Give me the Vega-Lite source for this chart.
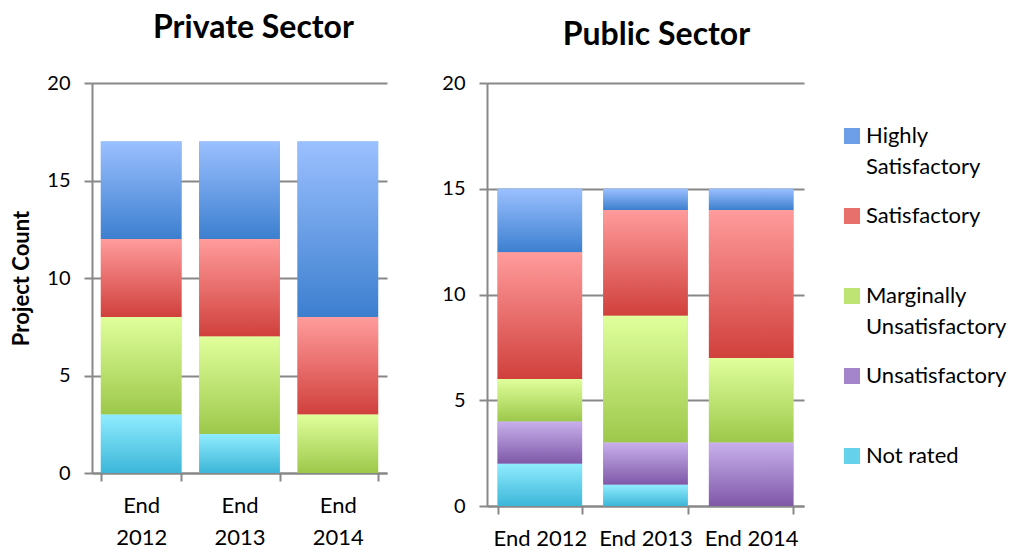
{
  "$schema": "https://vega.github.io/schema/vega-lite/v6.json",
  "background": "white",
  "padding": {"left": 10, "top": 12, "right": 5, "bottom": 5},
  "bounds": "flush",
  "spacing": 100,
  "config": {
    "font": "Lato",
    "view": {"stroke": null},
    "style": {"guide-label": {"lineHeight": 31}},
    "axis": {
      "labelFont": "Lato",
      "labelFontSize": 20,
      "labelColor": "#000",
      "domainColor": "#888",
      "domainWidth": 2,
      "tickColor": "#888",
      "tickWidth": 2,
      "tickSize": 8,
      "gridColor": "#888",
      "gridWidth": 2
    },
    "legend": {
      "labelFont": "Lato",
      "labelFontSize": 22,
      "labelColor": "#000"
    }
  },
  "datasets": {
    "private": [
      {"period": "End 2012", "rating": "Not rated", "rank": 1, "count": 3},
      {"period": "End 2012", "rating": "Marginally Unsatisfactory", "rank": 3, "count": 5},
      {"period": "End 2012", "rating": "Satisfactory", "rank": 4, "count": 4},
      {"period": "End 2012", "rating": "Highly Satisfactory", "rank": 5, "count": 5},
      {"period": "End 2013", "rating": "Not rated", "rank": 1, "count": 2},
      {"period": "End 2013", "rating": "Marginally Unsatisfactory", "rank": 3, "count": 5},
      {"period": "End 2013", "rating": "Satisfactory", "rank": 4, "count": 5},
      {"period": "End 2013", "rating": "Highly Satisfactory", "rank": 5, "count": 5},
      {"period": "End 2014", "rating": "Marginally Unsatisfactory", "rank": 3, "count": 3},
      {"period": "End 2014", "rating": "Satisfactory", "rank": 4, "count": 5},
      {"period": "End 2014", "rating": "Highly Satisfactory", "rank": 5, "count": 9}
    ],
    "public": [
      {"period": "End 2012", "rating": "Not rated", "rank": 1, "count": 2},
      {"period": "End 2012", "rating": "Unsatisfactory", "rank": 2, "count": 2},
      {"period": "End 2012", "rating": "Marginally Unsatisfactory", "rank": 3, "count": 2},
      {"period": "End 2012", "rating": "Satisfactory", "rank": 4, "count": 6},
      {"period": "End 2012", "rating": "Highly Satisfactory", "rank": 5, "count": 3},
      {"period": "End 2013", "rating": "Not rated", "rank": 1, "count": 1},
      {"period": "End 2013", "rating": "Unsatisfactory", "rank": 2, "count": 2},
      {"period": "End 2013", "rating": "Marginally Unsatisfactory", "rank": 3, "count": 6},
      {"period": "End 2013", "rating": "Satisfactory", "rank": 4, "count": 5},
      {"period": "End 2013", "rating": "Highly Satisfactory", "rank": 5, "count": 1},
      {"period": "End 2014", "rating": "Unsatisfactory", "rank": 2, "count": 3},
      {"period": "End 2014", "rating": "Marginally Unsatisfactory", "rank": 3, "count": 4},
      {"period": "End 2014", "rating": "Satisfactory", "rank": 4, "count": 7},
      {"period": "End 2014", "rating": "Highly Satisfactory", "rank": 5, "count": 1}
    ]
  },
  "hconcat": [
    {
      "data": {"name": "private"},
      "width": 295,
      "height": 390,
      "title": {"text": "Private Sector", "fontSize": 32, "fontWeight": "bold", "font": "Lato", "anchor": "middle", "offset": 28, "dx": 14},
      "transform": [
        {"stack": "count", "groupby": ["period"], "sort": [{"field": "rank", "order": "ascending"}], "as": ["c0", "c1"]}
      ],
      "encoding": {
        "x": {
          "field": "period", "type": "nominal",
          "scale": {"paddingInner": 0.18, "paddingOuter": 0.09},
          "axis": {"title": null, "labelAngle": 0, "labelFontSize": 22, "labelExpr": "split(datum.label, ' ')", "labelLineHeight": 32, "labelPadding": 14, "tickBand": "extent", "grid": false}
        },
        "y": {
          "field": "c1", "type": "quantitative",
          "scale": {"domain": [0, 20]},
          "axis": {"title": "Project Count", "titleFontSize": 22, "titleFontWeight": "bold", "titleColor": "#000", "titlePadding": 13, "values": [0, 5, 10, 15, 20], "labelPadding": 14, "grid": true}
        },
        "y2": {"field": "c0"}
      },
      "layer": [
        {
          "mark": {"type": "bar"},
          "encoding": {
            "color": {
              "field": "rating", "type": "nominal",
              "scale": {
                "domain": ["Highly Satisfactory", "Satisfactory", "Marginally Unsatisfactory", "Unsatisfactory", "Not rated"],
                "range": ["#6c9fe7", "#e8706c", "#bee473", "#a484ca", "#66d1eb"]
              },
              "legend": {
                "title": null,
                "orient": "right",
                "offset": -5,
                "padding": 42,
                "symbolType": "square",
                "symbolSize": 256,
                "symbolStrokeWidth": 0,
                "symbolOpacity": 1,
                "rowPadding": 27,
                "labelOffset": 3,
                "labelExpr": "datum.label == 'Highly Satisfactory' ? ['Highly', 'Satisfactory'] : datum.label == 'Marginally Unsatisfactory' ? ['Marginally', 'Unsatisfactory'] : [datum.label, ' ']"
              }
            }
          }
        },
        {
          "transform": [{"filter": "datum.rating == 'Highly Satisfactory'"}],
          "mark": {"type": "bar", "color": {"gradient": "linear", "x1": 0, "y1": 0, "x2": 0, "y2": 1, "stops": [{"offset": 0, "color": "#9bc0ff"}, {"offset": 1, "color": "#3c7fcf"}]}}
        },
        {
          "transform": [{"filter": "datum.rating == 'Satisfactory'"}],
          "mark": {"type": "bar", "color": {"gradient": "linear", "x1": 0, "y1": 0, "x2": 0, "y2": 1, "stops": [{"offset": 0, "color": "#ff9c9c"}, {"offset": 1, "color": "#d0403c"}]}}
        },
        {
          "transform": [{"filter": "datum.rating == 'Marginally Unsatisfactory'"}],
          "mark": {"type": "bar", "color": {"gradient": "linear", "x1": 0, "y1": 0, "x2": 0, "y2": 1, "stops": [{"offset": 0, "color": "#e0ff9c"}, {"offset": 1, "color": "#9cc84a"}]}}
        },
        {
          "transform": [{"filter": "datum.rating == 'Unsatisfactory'"}],
          "mark": {"type": "bar", "color": {"gradient": "linear", "x1": 0, "y1": 0, "x2": 0, "y2": 1, "stops": [{"offset": 0, "color": "#c8b0ec"}, {"offset": 1, "color": "#7f58a8"}]}}
        },
        {
          "transform": [{"filter": "datum.rating == 'Not rated'"}],
          "mark": {"type": "bar", "color": {"gradient": "linear", "x1": 0, "y1": 0, "x2": 0, "y2": 1, "stops": [{"offset": 0, "color": "#90ecff"}, {"offset": 1, "color": "#3cb6d8"}]}}
        }
      ]
    },
    {
      "data": {"name": "public"},
      "width": 317,
      "height": 423,
      "title": {"text": "Public Sector", "fontSize": 32, "fontWeight": "bold", "font": "Lato", "anchor": "middle", "offset": 21, "dx": 11},
      "transform": [
        {"stack": "count", "groupby": ["period"], "sort": [{"field": "rank", "order": "ascending"}], "as": ["c0", "c1"]}
      ],
      "encoding": {
        "x": {
          "field": "period", "type": "nominal",
          "scale": {"paddingInner": 0.2, "paddingOuter": 0.1},
          "axis": {"title": null, "labelAngle": 0, "labelFontSize": 22, "labelPadding": 14, "tickBand": "extent", "grid": false}
        },
        "y": {
          "field": "c1", "type": "quantitative",
          "scale": {"domain": [0, 20]},
          "axis": {"title": null, "values": [0, 5, 10, 15, 20], "labelPadding": 14, "grid": true}
        },
        "y2": {"field": "c0"}
      },
      "layer": [
        {
          "mark": {"type": "bar"},
          "encoding": {"color": {"field": "rating", "type": "nominal"}}
        },
        {
          "transform": [{"filter": "datum.rating == 'Highly Satisfactory'"}],
          "mark": {"type": "bar", "color": {"gradient": "linear", "x1": 0, "y1": 0, "x2": 0, "y2": 1, "stops": [{"offset": 0, "color": "#9bc0ff"}, {"offset": 1, "color": "#3c7fcf"}]}}
        },
        {
          "transform": [{"filter": "datum.rating == 'Satisfactory'"}],
          "mark": {"type": "bar", "color": {"gradient": "linear", "x1": 0, "y1": 0, "x2": 0, "y2": 1, "stops": [{"offset": 0, "color": "#ff9c9c"}, {"offset": 1, "color": "#d0403c"}]}}
        },
        {
          "transform": [{"filter": "datum.rating == 'Marginally Unsatisfactory'"}],
          "mark": {"type": "bar", "color": {"gradient": "linear", "x1": 0, "y1": 0, "x2": 0, "y2": 1, "stops": [{"offset": 0, "color": "#e0ff9c"}, {"offset": 1, "color": "#9cc84a"}]}}
        },
        {
          "transform": [{"filter": "datum.rating == 'Unsatisfactory'"}],
          "mark": {"type": "bar", "color": {"gradient": "linear", "x1": 0, "y1": 0, "x2": 0, "y2": 1, "stops": [{"offset": 0, "color": "#c8b0ec"}, {"offset": 1, "color": "#7f58a8"}]}}
        },
        {
          "transform": [{"filter": "datum.rating == 'Not rated'"}],
          "mark": {"type": "bar", "color": {"gradient": "linear", "x1": 0, "y1": 0, "x2": 0, "y2": 1, "stops": [{"offset": 0, "color": "#90ecff"}, {"offset": 1, "color": "#3cb6d8"}]}}
        }
      ]
    }
  ],
  "resolve": {"scale": {"color": "shared", "y": "independent", "x": "independent"}}
}
